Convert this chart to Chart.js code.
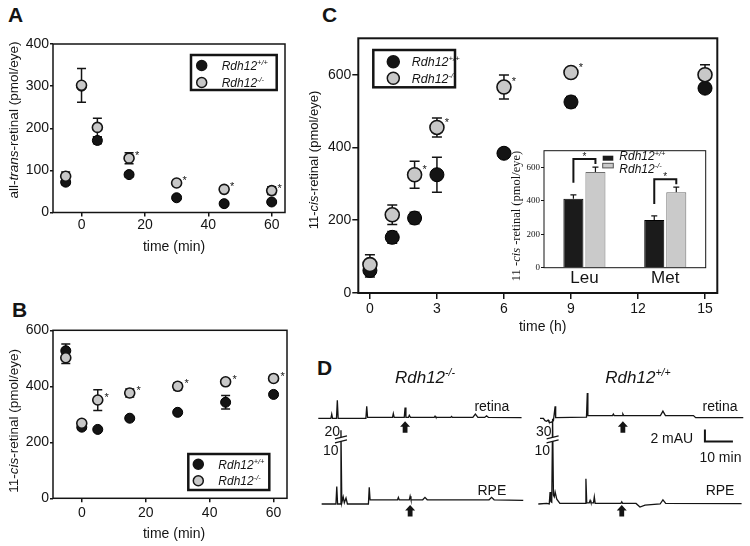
<!DOCTYPE html>
<html>
<head>
<meta charset="utf-8">
<title>Rdh12 retinoid kinetics</title>
<script src="https://cdn.jsdelivr.net/npm/chart.js@4.4.1/dist/chart.umd.min.js"></script>
<style>
  body { margin: 0; background: #fff; }
  #page { position: relative; width: 750px; height: 546px; overflow: hidden; font-family: "Liberation Sans", Arial, sans-serif; }
  canvas { position: absolute; }
  .tag { position: absolute; font-weight: bold; font-size: 21px; line-height: 1; color: #141414; }
</style>
</head>
<body>
<div id="page">
  <div class="tag" style="left:8px;top:4px">A</div>
  <div class="tag" style="left:12px;top:299px">B</div>
  <div class="tag" style="left:322px;top:4px">C</div>
  <div class="tag" style="left:317px;top:357px">D</div>
  <canvas id="chartA" width="300" height="255" style="left:0;top:0"></canvas>
  <canvas id="chartB" width="300" height="255" style="left:0;top:290px"></canvas>
  <canvas id="chartC" width="450" height="340" style="left:300px;top:0"></canvas>
  <canvas id="inset" width="215" height="160" style="left:500px;top:140px"></canvas>
  <canvas id="traceKO" width="220" height="165" style="left:310px;top:355px"></canvas>
  <canvas id="traceWT" width="220" height="165" style="left:530px;top:355px"></canvas>
</div>
<script>
const FONT = '"Liberation Sans", Arial, Helvetica, sans-serif';
const SERIF = '"Liberation Serif", "Times New Roman", serif';
const INK = '#141414';
const GREY = '#c8c8c8';

// genotype superscripts
const wtSup = '+/+';
const koSup = '-/-';

// A: all-trans-retinal (pmol/eye) after bleach, time in min
const minutes = [-5, 0, 5, 15, 30, 45, 60];
const atWt = [72, 300, 171, 90, 35, 21, 25];
const atWtErr = [6, 0, 8, 5, 4, 3, 3];
const atKo = [86, 302, 202, 129, 70, 55, 52];
const atKoErr = [10, 40, 22, 13, 6, 5, 9];
const atStars = [false, false, false, true, true, true, true];

// B: 11-cis-retinal (pmol/eye), same time points
const cisWtB = [527, 254, 246, 286, 307, 343, 371];
const cisWtBErr = [24, 8, 0, 0, 0, 24, 0];
const cisKoB = [502, 268, 351, 376, 400, 416, 428];
const cisKoBErr = [21, 8, 37, 14, 12, 8, 8];
const cisStarsB = [false, false, true, true, true, true, true];

// C: 11-cis-retinal recovery, time in h
const hours = [0, 1, 2, 3, 6, 9, 15];
const cisWtC = [62, 153, 206, 325, 384, 525, 563];
const cisWtCErr = [18, 16, 16, 48, 0, 15, 0];
const cisKoC = [78, 215, 325, 455, 566, 606, 600];
const cisKoCErr = [27, 27, 37, 26, 33, 0, 27];
const cisStarsC = [false, false, true, true, true, true, false];

// C inset: 11-cis-retinal by amino acid variant
const aminoAcids = ['Leu', 'Met'];
const insetWt = [412, 286];
const insetWtErr = [24, 24];
const insetKo = [572, 452];
const insetKoErr = [30, 30];

// tick labels
const ticksMin = [0, 20, 40, 60];
const ticksA = [0, 100, 200, 300, 400];
const ticksB = [0, 200, 400, 600];
const ticksHours = [0, 3, 6, 9, 12, 15];
const ticksC = [0, 200, 400, 600];
const ticksInset = [0, 200, 400, 600];

// D: HPLC traces [time (min), absorbance (mAU)]
const koRetinaTrace = [[0,0],[4.5,0],[4.8,0.7],[5.1,0],[6.5,0],[6.8,3.0],[7.1,0],[17.0,0],[17.3,2.0],[17.6,0.15],[26.5,0.15],[26.8,0.8],[27.1,0.15],[30.7,0.15],[31.0,1.8],[31.3,0.15],[32.2,0.15],[32.5,0.5],[32.9,0.15],[41.4,0.15],[41.7,0.35],[42.0,0.15],[47.3,0.15],[47.6,0.3],[47.9,0.15],[55.2,0.15],[56.1,0.7],[57.0,0.15],[59.4,0.15],[60.1,0.4],[60.8,0.15],[72.6,0.1]];
const koRpeTrace = [[1.2,0],[6.3,0],[6.6,2.9],[6.9,0],[7.8,0],[8.1,12.3],[8.4,0.2],[8.9,1.2],[9.3,0.2],[9.9,1.0],[10.4,0],[17.9,0],[18.2,2.8],[18.5,0.7],[28.3,0.7],[28.6,1.1],[28.9,0.7],[32.5,0.7],[32.8,1.3],[33.1,0.7],[37.3,0.7],[38.1,1.1],[38.9,0.7],[61.0,0.7],[61.9,1.1],[62.8,0.7],[73.2,0.6]];
const wtRetinaTrace = [[0,0],[1.2,0],[1.8,-0.4],[2.4,-0.5],[2.9,-0.3],[3.2,-0.6],[3.9,-0.7],[4.8,-0.4],[5.4,2.0],[5.6,0.1],[16.6,0.2],[16.9,4.2],[17.1,0.45],[25.9,0.45],[26.2,0.7],[26.5,0.45],[29.3,0.45],[29.6,0.7],[29.9,0.45],[43.0,0.45],[43.9,1.2],[44.8,0.45],[54.8,0.45],[55.6,0.1],[72.6,0.1]];
const wtRpeTrace = [[-0.6,0],[2.4,0.1],[3.3,0],[3.6,2.0],[3.9,0.4],[4.2,0.3],[4.5,14.2],[4.8,1.5],[5.1,1.2],[5.4,2.0],[6.0,0.8],[7.1,0.1],[16.1,0.1],[16.4,4.2],[16.7,0.2],[17.6,0.2],[17.9,0.6],[18.2,0.2],[19.1,0.2],[19.4,1.2],[19.7,0.1],[28.9,0.1],[29.2,0.35],[29.5,0.1],[34.3,0.1],[35.7,-0.5],[37.5,-0.2],[42.9,0],[43.9,0.7],[44.9,0.1],[72,0.05]];
const breakLabelsKO = ['20', '10'];
const breakLabelsWT = ['30', '10'];

Chart.defaults.font.family = FONT;
Chart.defaults.color = INK;
Chart.defaults.animation = false;
Chart.defaults.responsive = false;
Chart.defaults.plugins.legend.display = false;
Chart.defaults.plugins.tooltip.enabled = false;

const pts = (xs, ys) => xs.map((x, i) => ({ x, y: ys[i] }));
const trace = arr => arr.map(([x, y]) => ({ x, y }));

// draw mixed normal / italic / superscript text, y = baseline
function rich(ctx, parts, x, y, size, align, family) {
  family = family || FONT;
  const fontOf = k => (k.includes('i') ? 'italic ' : '') + (k.includes('s') ? size * 0.62 : size) + 'px ' + family;
  let w = 0;
  for (const [t, k] of parts) { ctx.font = fontOf(k); w += ctx.measureText(t).width; }
  let cx = align === 'center' ? x - w / 2 : align === 'right' ? x - w : x;
  ctx.textAlign = 'left';
  ctx.textBaseline = 'alphabetic';
  for (const [t, k] of parts) {
    ctx.font = fontOf(k);
    ctx.fillText(t, cx, k.includes('s') ? y - size * 0.38 : y);
    cx += ctx.measureText(t).width;
  }
}

function vtitle(ctx, parts, cx, cy, size, family) {
  ctx.save();
  ctx.fillStyle = INK;
  ctx.translate(cx, cy);
  ctx.rotate(-Math.PI / 2);
  rich(ctx, parts, 0, size * 0.36, size, 'center', family);
  ctx.restore();
}

function legendBox(ctx, box, rows, r, fs) {
  ctx.save();
  ctx.fillStyle = '#fff';
  ctx.fillRect(box[0], box[1], box[2] - box[0], box[3] - box[1]);
  ctx.lineWidth = 2.5;
  ctx.strokeStyle = INK;
  ctx.strokeRect(box[0], box[1], box[2] - box[0], box[3] - box[1]);
  rows.forEach(([cx, cy, fill, tx, sup]) => {
    ctx.beginPath();
    ctx.arc(cx, cy, r, 0, Math.PI * 2);
    ctx.fillStyle = fill;
    ctx.fill();
    ctx.lineWidth = 1.5;
    ctx.stroke();
    ctx.fillStyle = INK;
    rich(ctx, [['Rdh12', 'i'], [sup, 'si']], tx, cy + fs * 0.36, fs, 'left');
  });
  ctx.restore();
}

function star(ctx, x, y, fs) {
  ctx.font = fs + 'px ' + FONT;
  ctx.textAlign = 'center';
  ctx.textBaseline = 'alphabetic';
  ctx.fillText('*', x, y + fs * 0.56);
}

function axis(min, max, tickVals, size, o) {
  o = o || {};
  return {
    type: 'linear', min, max,
    afterBuildTicks: s => { s.ticks = tickVals.map(v => ({ value: v })); },
    afterFit: s => { if (s.isHorizontal()) s.height = size; else s.width = size; },
    grid: { drawOnChartArea: false, drawTicks: true, tickLength: o.tl || 4, color: INK, lineWidth: o.lw || 1.5 },
    border: { display: false },
    ticks: { padding: o.pad || 0, color: INK, font: { family: o.family || FONT, size: o.fs || 14 }, maxRotation: 0, autoSkip: false },
  };
}

// error bars, asterisks, frame, extra text
function panelPlugin(o) {
  return {
    id: 'panel',
    beforeDraw(chart) {
      if (!o.whiteArea) return;
      const a = chart.chartArea;
      chart.ctx.save();
      chart.ctx.fillStyle = '#fff';
      chart.ctx.fillRect(a.left, a.top, a.right - a.left, a.bottom - a.top);
      chart.ctx.restore();
    },
    beforeDatasetsDraw(chart) {
      const ctx = chart.ctx, y = chart.scales.y;
      ctx.save();
      ctx.strokeStyle = INK;
      ctx.lineWidth = o.errW || 1.5;
      chart.data.datasets.forEach((ds, i) => {
        if (!ds.err) return;
        chart.getDatasetMeta(i).data.forEach((el, j) => {
          const e = ds.err[j];
          if (!e) return;
          const v = typeof ds.data[j] === 'number' ? ds.data[j] : ds.data[j].y;
          const top = y.getPixelForValue(v + e);
          const bot = ds.errUp ? y.getPixelForValue(v) : y.getPixelForValue(v - e);
          ctx.beginPath();
          ctx.moveTo(el.x, bot); ctx.lineTo(el.x, top);
          ctx.moveTo(el.x - o.cap, top); ctx.lineTo(el.x + o.cap, top);
          if (!ds.errUp) { ctx.moveTo(el.x - o.cap, bot); ctx.lineTo(el.x + o.cap, bot); }
          ctx.stroke();
        });
      });
      ctx.restore();
    },
    afterDatasetsDraw(chart) {
      const ctx = chart.ctx;
      ctx.save();
      ctx.fillStyle = INK;
      chart.data.datasets.forEach((ds, i) => {
        if (!ds.stars) return;
        chart.getDatasetMeta(i).data.forEach((el, j) => {
          if (ds.stars[j]) star(ctx, el.x + o.sdx, el.y + o.sdy, 11);
        });
      });
      ctx.restore();
    },
    afterDraw(chart) {
      const ctx = chart.ctx, a = chart.chartArea;
      ctx.save();
      ctx.strokeStyle = INK;
      ctx.lineWidth = o.frame;
      ctx.strokeRect(a.left, a.top, a.right - a.left, a.bottom - a.top);
      ctx.restore();
      if (o.deco) o.deco(ctx, chart);
    },
  };
}

function timeCourse(id, o) {
  return new Chart(document.getElementById(id), {
    type: 'scatter',
    data: {
      datasets: [
        { label: 'Rdh12' + koSup, data: pts(o.t, o.ko), err: o.koErr, stars: o.stars, order: 0,
          pointRadius: o.r, pointBackgroundColor: GREY, pointBorderColor: INK, pointBorderWidth: 1.6 },
        { label: 'Rdh12' + wtSup, data: pts(o.t, o.wt), err: o.wtErr, order: 1,
          pointRadius: o.r, pointBackgroundColor: INK, pointBorderColor: '#000', pointBorderWidth: 1 },
      ],
    },
    options: {
      devicePixelRatio: 1,
      layout: { padding: o.pad },
      scales: { x: o.x, y: o.y },
    },
    plugins: [panelPlugin(o)],
  });
}

// ---------- A ----------
timeCourse('chartA', {
  t: minutes, wt: atWt, wtErr: atWtErr, ko: atKo, koErr: atKoErr, stars: atStars,
  r: 5, cap: 4.5, sdx: 8, sdy: -5, frame: 1.5,
  pad: { top: 44, right: 15, left: 0, bottom: 0 },
  x: axis(-9, 64.2, ticksMin, 42.5, { tl: 4, pad: 0 }),
  y: axis(0, 400, ticksA, 53, { tl: 3, pad: 1 }),
  deco(ctx) {
    vtitle(ctx, [['all-', 'n'], ['trans', 'i'], ['-retinal (pmol/eye)', 'n']], 13, 120, 13.5);
    ctx.fillStyle = INK;
    rich(ctx, [['time (min)', 'n']], 174, 250.5, 14, 'center');
    legendBox(ctx, [191, 55, 276.7, 90],
      [[201.7, 65.5, INK, 221.7, wtSup], [201.7, 82.5, GREY, 221.7, koSup]], 5, 12);
  },
});

// ---------- B ----------
timeCourse('chartB', {
  t: minutes, wt: cisWtB, wtErr: cisWtBErr, ko: cisKoB, koErr: cisKoBErr, stars: cisStarsB,
  r: 5, cap: 4.5, sdx: 9, sdy: -5, frame: 1.5,
  pad: { top: 40.3, right: 13, left: 0, bottom: 0 },
  x: axis(-9, 64.2, ticksMin, 46.7, { tl: 4, pad: 2 }),
  y: axis(0, 600, ticksB, 53, { tl: 3, pad: 1 }),
  deco(ctx) {
    vtitle(ctx, [['11-', 'n'], ['cis', 'i'], ['-retinal (pmol/eye)', 'n']], 13.3, 130.8, 13.5);
    ctx.fillStyle = INK;
    rich(ctx, [['time (min)', 'n']], 174, 248, 14, 'center');
    legendBox(ctx, [188.3, 164, 269.3, 200],
      [[198.3, 174.3, INK, 218.3, wtSup], [198.3, 190.7, GREY, 218.3, koSup]], 5, 12);
  },
});

// ---------- C ----------
timeCourse('chartC', {
  t: hours, wt: cisWtC, wtErr: cisWtCErr, ko: cisKoC, koErr: cisKoCErr, stars: cisStarsC,
  r: 7, cap: 5, sdx: 10, sdy: -8, frame: 2,
  pad: { top: 38.3, right: 32.7, left: 0, bottom: 0 },
  x: axis(-0.52, 15.55, ticksHours, 47, { tl: 6, pad: 2 }),
  y: axis(0, 700, ticksC, 58.3, { tl: 6, pad: 1 }),
  deco(ctx) {
    vtitle(ctx, [['11-', 'n'], ['cis', 'i'], ['-retinal (pmol/eye)', 'n']], 13, 160, 13);
    ctx.fillStyle = INK;
    rich(ctx, [['time (h)', 'n']], 242.7, 331, 14, 'center');
    legendBox(ctx, [73.3, 50, 155, 87.3],
      [[93.3, 61.7, INK, 111.7, wtSup], [93.3, 78.3, GREY, 111.7, koSup]], 6, 12.5);
  },
});

// ---------- C inset ----------
new Chart(document.getElementById('inset'), {
  type: 'bar',
  data: {
    labels: aminoAcids,
    datasets: [
      { data: insetWt, err: insetWtErr, errUp: true, backgroundColor: '#1b1b1b', borderColor: '#000', borderWidth: 1 },
      { data: insetKo, err: insetKoErr, errUp: true, backgroundColor: '#cacaca', borderColor: '#6e6e6e', borderWidth: 1 },
    ],
  },
  options: {
    devicePixelRatio: 1,
    layout: { padding: { top: 10.7, right: 9.3, left: 0, bottom: 0 } },
    datasets: { bar: { categoryPercentage: 0.545, barPercentage: 0.91 } },
    scales: {
      x: {
        type: 'category',
        afterFit: s => { s.height = 32.3; },
        grid: { display: false, drawTicks: false, tickLength: 0 },
        border: { display: false },
        ticks: { padding: 0, color: INK, font: { family: FONT, size: 17 } },
      },
      y: axis(0, 700, ticksInset, 44, { tl: 3, pad: 1, fs: 9, family: SERIF, lw: 1 }),
    },
  },
  plugins: [panelPlugin({
    frame: 1, errW: 1.2, cap: 3, whiteArea: true,
    deco(ctx, chart) {
      const y = chart.scales.y;
      const mw = chart.getDatasetMeta(0), mk = chart.getDatasetMeta(1);
      ctx.save();
      ctx.strokeStyle = INK;
      ctx.fillStyle = INK;
      ctx.lineWidth = 2;
      aminoAcids.forEach((_, j) => {
        const xa = mw.data[j].x, xb = mk.data[j].x;
        const y0 = y.getPixelForValue(insetWt[j] + insetWtErr[j]) - 12;
        const yt = y.getPixelForValue(insetKo[j] + insetKoErr[j]) - 8;
        ctx.beginPath();
        ctx.moveTo(xa, y0); ctx.lineTo(xa, yt); ctx.lineTo(xb, yt); ctx.lineTo(xb, yt + 5);
        ctx.stroke();
        star(ctx, (xa + xb) / 2, yt - 5, 10);
      });
      // legend
      ctx.lineWidth = 1;
      ctx.fillStyle = '#1b1b1b';
      ctx.fillRect(102.7, 15.7, 10.6, 5);
      ctx.fillStyle = '#cacaca';
      ctx.fillRect(102.7, 23.3, 10.6, 4.6);
      ctx.strokeStyle = '#555';
      ctx.strokeRect(102.7, 23.3, 10.6, 4.6);
      ctx.fillStyle = INK;
      rich(ctx, [['Rdh12', 'i'], [wtSup, 'si']], 119.3, 16 + 4.3, 12, 'left');
      rich(ctx, [['Rdh12', 'i'], [koSup, 'si']], 119.3, 28.3 + 4.3, 12, 'left');
      ctx.restore();
      vtitle(ctx, [['11 -', 'n'], ['cis', 'i'], [' -retinal (pmol/eye)', 'n']], 15, 76, 12.5, SERIF);
    },
  })],
});

// ---------- D ----------
const PX_MIN = 2.8;   // px per minute
const PX_MAU = 6;     // px per mAU
const RET_BASE = 63.3, RPE_BASE = 149;

function arrow(ctx, x, top) {
  ctx.beginPath();
  ctx.moveTo(x, top);
  ctx.lineTo(x + 5, top + 5.5);
  ctx.lineTo(x + 2.4, top + 5.5);
  ctx.lineTo(x + 2.4, top + 11.5);
  ctx.lineTo(x - 2.4, top + 11.5);
  ctx.lineTo(x - 2.4, top + 5.5);
  ctx.lineTo(x - 5, top + 5.5);
  ctx.closePath();
  ctx.fill();
}

function traceDeco(o) {
  return {
    id: 'traceDeco',
    afterDraw(chart) {
      const ctx = chart.ctx, x = chart.scales.x, yr = chart.scales.y, yp = chart.scales.y2;
      ctx.save();
      ctx.fillStyle = INK;
      ctx.strokeStyle = INK;
      rich(ctx, [['Rdh12', 'i'], [o.sup, 'si']], x.getPixelForValue(o.titleT), 21.7 + 6, 17, 'center');
      ctx.font = '14px ' + FONT;
      ctx.textAlign = 'center';
      ctx.textBaseline = 'alphabetic';
      ctx.fillText('retina', x.getPixelForValue(o.nameT), yr.getPixelForValue(0) - 12 + 5);
      ctx.fillText('RPE', x.getPixelForValue(o.nameT), yp.getPixelForValue(0) - 14 + 5);
      arrow(ctx, x.getPixelForValue(o.arrowRet), yr.getPixelForValue(0) + 3);
      arrow(ctx, x.getPixelForValue(o.arrowRpe), yp.getPixelForValue(0) + 1);
      // broken axis on the big RPE peak
      const bx = x.getPixelForValue(o.breakT), by = yp.getPixelForValue(10.7);
      ctx.fillStyle = '#fff';
      ctx.beginPath();
      ctx.moveTo(bx - 6, by - 1); ctx.lineTo(bx + 6, by - 4); ctx.lineTo(bx + 6, by); ctx.lineTo(bx - 6, by + 3);
      ctx.closePath();
      ctx.fill();
      ctx.lineWidth = 1.2;
      ctx.beginPath();
      ctx.moveTo(bx - 6, by - 1); ctx.lineTo(bx + 6, by - 4);
      ctx.moveTo(bx - 6, by + 3); ctx.lineTo(bx + 6, by);
      ctx.stroke();
      ctx.fillStyle = INK;
      ctx.font = '14px ' + FONT;
      ctx.textAlign = 'right';
      ctx.fillText(o.breakLabels[0], bx - 1, by - 8.5 + 5);
      ctx.fillText(o.breakLabels[1], bx - 2.5, by + 10 + 5);
      if (o.scaleBar) {
        const sx = x.getPixelForValue(o.scaleBar.t), sx2 = x.getPixelForValue(o.scaleBar.t + 10);
        const sy = yp.getPixelForValue(o.scaleBar.v), sy2 = yp.getPixelForValue(o.scaleBar.v + 2);
        ctx.lineWidth = 2;
        ctx.beginPath();
        ctx.moveTo(sx, sy2); ctx.lineTo(sx, sy); ctx.lineTo(sx2, sy);
        ctx.stroke();
        ctx.textAlign = 'right';
        ctx.fillText('2 mAU', sx - 11.7, sy - 3.4 + 5);
        ctx.textAlign = 'center';
        ctx.fillText('10 min', (sx + sx2) / 2 + 1.5, sy + 15 + 5);
      }
      ctx.restore();
    },
  };
}

function traceChart(id, o) {
  return new Chart(document.getElementById(id), {
    type: 'scatter',
    data: {
      datasets: [
        { data: trace(o.retina), yAxisID: 'y', showLine: true, pointRadius: 0, borderColor: INK, borderWidth: 1.3 },
        { data: trace(o.rpe), yAxisID: 'y2', showLine: true, pointRadius: 0, borderColor: INK, borderWidth: 1.3 },
      ],
    },
    options: {
      devicePixelRatio: 1,
      layout: { padding: 0 },
      scales: {
        x: { type: 'linear', display: false, min: o.xMin, max: o.xMin + 220 / PX_MIN },
        y: { type: 'linear', display: false, min: -(165 - RET_BASE) / PX_MAU, max: RET_BASE / PX_MAU },
        y2: { type: 'linear', display: false, min: -(165 - RPE_BASE) / PX_MAU, max: RPE_BASE / PX_MAU },
      },
    },
    plugins: [traceDeco(o)],
  });
}

traceChart('traceKO', {
  retina: koRetinaTrace, rpe: koRpeTrace, xMin: -2.96, sup: koSup,
  titleT: 38.1, nameT: 62, arrowRet: 31.0, arrowRpe: 32.8, breakT: 8.1, breakLabels: breakLabelsKO,
});
traceChart('traceWT', {
  retina: wtRetinaTrace, rpe: wtRpeTrace, xMin: -3.57, sup: wtSup,
  titleT: 35, nameT: 64.3, arrowRet: 29.6, arrowRpe: 29.2, breakT: 4.5, breakLabels: breakLabelsWT,
  scaleBar: { t: 58.9, v: 10.4 },
});
</script>
</body>
</html>
